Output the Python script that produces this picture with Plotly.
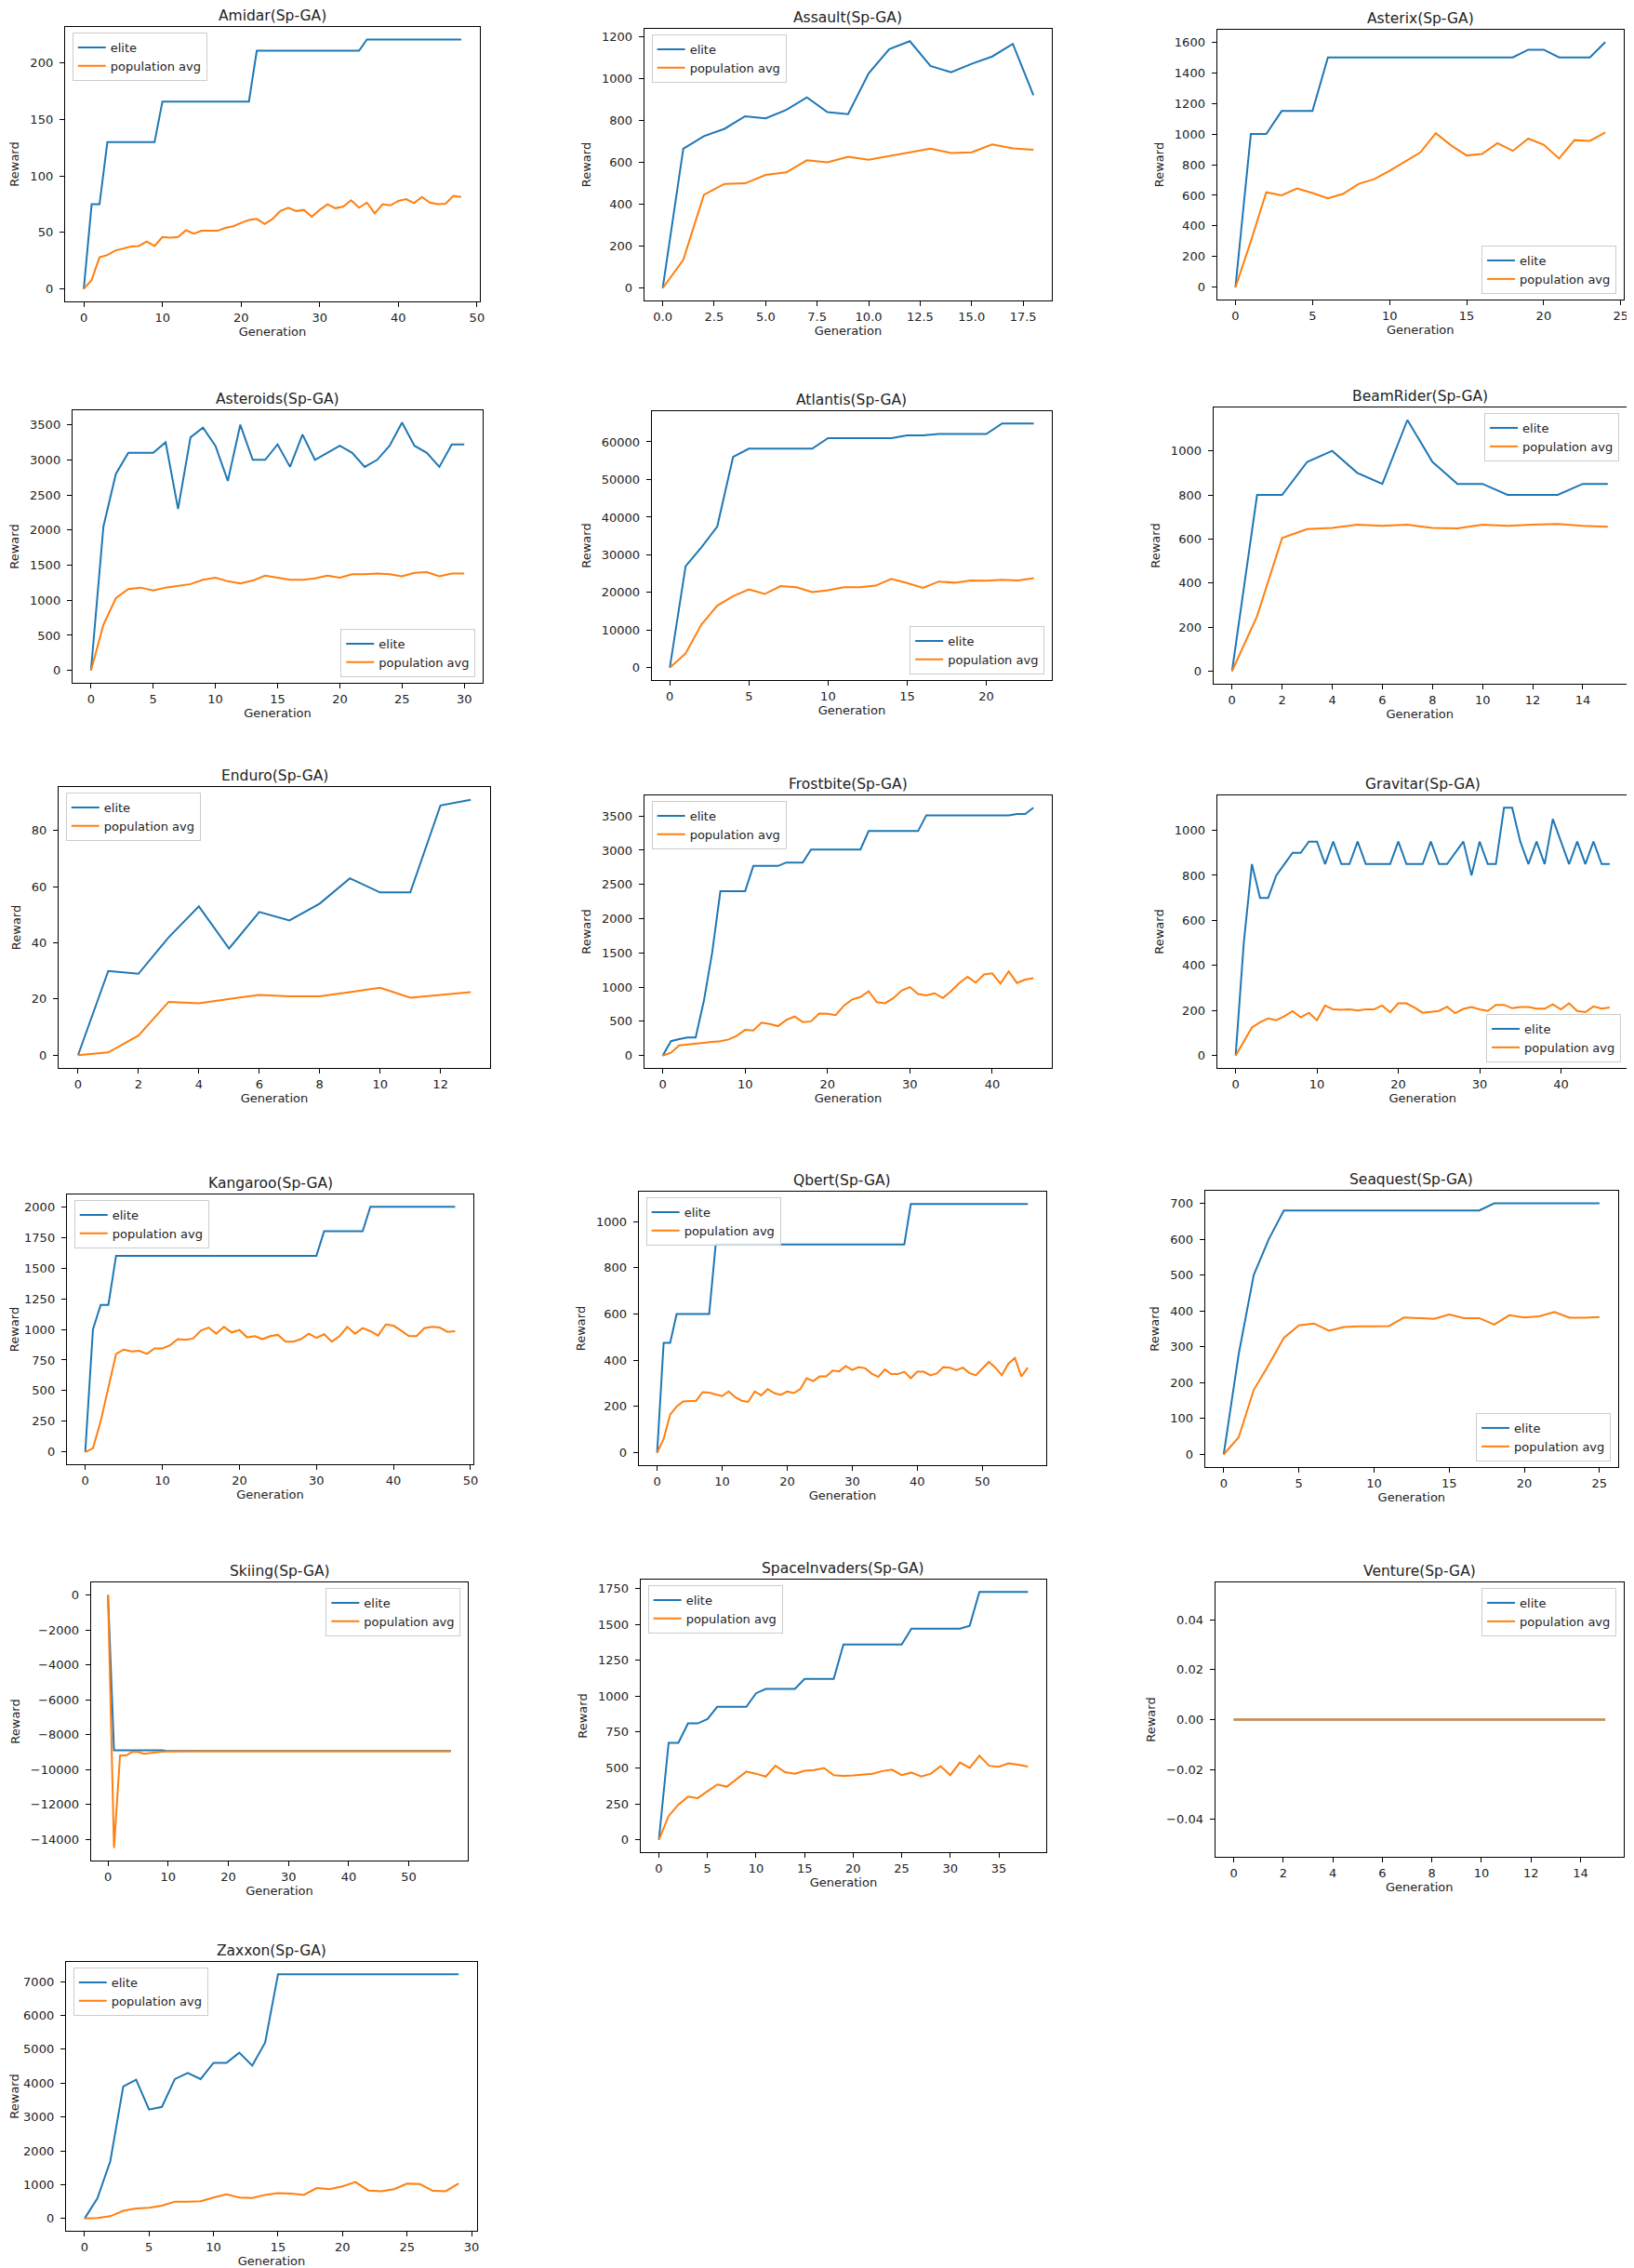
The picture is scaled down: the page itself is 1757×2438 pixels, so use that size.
import plotly.graph_objects as go

W, H = 1757, 2438
BLUE = "#1f77b4"
ORANGE = "#ff7f0e"
FONT = "DejaVu Sans"

# ---------------- data ----------------
amidar_elite = [0, 75, 75, 130, 130, 130, 130, 130, 130, 130,
                166, 166, 166, 166, 166, 166, 166, 166, 166, 166,
                166, 166, 211, 211, 211, 211, 211, 211, 211, 211,
                211, 211, 211, 211, 211, 211, 221, 221, 221, 221,
                221, 221, 221, 221, 221, 221, 221, 221, 221]
amidar_pop = [0, 8, 28, 30, 34, 36, 37.5, 38, 42, 38,
              46, 45.5, 46, 52, 49, 51.5, 51.5, 51.5, 54, 55.5,
              58.5, 61, 62, 57.5, 62, 69, 72, 69, 70, 64,
              70, 75, 71.5, 73, 78.5, 72, 76.5, 67, 75, 74,
              78, 79.5, 76, 81.5, 76.5, 75, 75.5, 82.5, 81.5]

assault_elite = [0, 665, 725, 760, 820, 810, 850, 910, 840, 830,
                 1025, 1140, 1178, 1060, 1030, 1070, 1105, 1165, 920]
assault_pop = [0, 135, 445, 497, 500, 540, 552, 610, 600, 627,
               612, 630, 648, 665, 645, 648, 685, 667, 660]

asterix_elite = [0, 1000, 1000, 1150, 1150, 1150, 1500, 1500, 1500, 1500,
                 1500, 1500, 1500, 1500, 1500, 1500, 1500, 1500, 1500, 1550,
                 1550, 1500, 1500, 1500, 1600]
asterix_pop = [0, 300, 620, 600, 645, 615, 580, 610, 675, 705,
               760, 820, 880, 1005, 925, 860, 870, 940, 890, 970,
               930, 840, 960, 955, 1010]

asteroids_elite = [0, 2050, 2800, 3100, 3100, 3100, 3250, 2300, 3320, 3460,
                   3200, 2700, 3500, 3000, 3000, 3220, 2900, 3360, 3000, 3100,
                   3200, 3100, 2900, 3000, 3200, 3530, 3200, 3100, 2900, 3220,
                   3220]
asteroids_pop = [0, 650, 1030, 1160, 1180, 1140, 1180, 1200, 1230, 1290,
                 1320, 1270, 1240, 1280, 1350, 1320, 1290, 1290, 1310, 1350,
                 1320, 1370, 1370, 1380, 1370, 1340, 1390, 1400, 1340, 1380,
                 1380]

atlantis_elite = [0, 27000, 32000, 37500, 56000, 58200, 58200, 58200, 58200, 58200,
                  61000, 61000, 61000, 61000, 61000, 61700, 61700, 62100, 62100, 62100,
                  62100, 64900, 64900, 64900]
atlantis_pop = [0, 3800, 11500, 16500, 19000, 20800, 19600, 21700, 21400, 20100,
                20600, 21400, 21400, 21800, 23600, 22500, 21200, 22900, 22600, 23200,
                23100, 23400, 23200, 23800]

beamrider_elite = [0, 800, 800, 950, 1000, 900, 850, 1140, 950, 850,
                   850, 800, 800, 800, 850, 850]
beamrider_pop = [0, 250, 605, 645, 650, 665, 660, 665, 650, 648,
                 665, 660, 665, 668, 660, 655]

enduro_elite = [0, 30, 29, 42, 53, 38, 51, 48, 54, 63, 58, 58, 89, 91]
enduro_pop = [0, 1, 7, 19, 18.5, 20, 21.5, 21, 21, 22.5, 24, 20.5, 21.5, 22.5]

frostbite_elite = [0, 210, 240, 265, 265, 800, 1500, 2400, 2400, 2400,
                   2400, 2770, 2770, 2770, 2770, 2820, 2820, 2820, 3010, 3010,
                   3010, 3010, 3010, 3010, 3010, 3280, 3280, 3280, 3280, 3280,
                   3280, 3280, 3510, 3510, 3510, 3510, 3510, 3510, 3510, 3510,
                   3510, 3510, 3510, 3530, 3530, 3620]
frostbite_pop = [0, 40, 150, 165, 180, 185, 200, 210, 235, 290,
                 375, 365, 480, 460, 430, 520, 570, 490, 500, 615,
                 610, 590, 730, 820, 855, 940, 780, 765, 840, 950,
                 1000, 900, 880, 910, 840, 940, 1060, 1150, 1065, 1185,
                 1200, 1050, 1230, 1060, 1110, 1130]

gravitar_elite = [0, 500, 850, 700, 700, 800, 850, 900, 900, 950,
                  950, 850, 950, 850, 850, 950, 850, 850, 850, 850,
                  950, 850, 850, 850, 950, 850, 850, 900, 950, 800,
                  950, 850, 850, 1100, 1100, 950, 850, 950, 850, 1050,
                  950, 850, 950, 850, 950, 850, 850]
gravitar_pop = [0, 60, 125, 148, 165, 157, 175, 197, 170, 190,
                157, 222, 205, 203, 205, 200, 205, 205, 222, 192,
                232, 232, 213, 190, 193, 198, 217, 188, 207, 215,
                205, 198, 225, 225, 210, 215, 215, 208, 208, 227,
                205, 232, 198, 193, 218, 208, 213]

kangaroo_elite = [0, 1000, 1200, 1200, 1600, 1600, 1600, 1600, 1600, 1600,
                  1600, 1600, 1600, 1600, 1600, 1600, 1600, 1600, 1600, 1600,
                  1600, 1600, 1600, 1600, 1600, 1600, 1600, 1600, 1600, 1600,
                  1600, 1800, 1800, 1800, 1800, 1800, 1800, 2000, 2000, 2000,
                  2000, 2000, 2000, 2000, 2000, 2000, 2000, 2000, 2000]
kangaroo_pop = [0, 30, 250, 530, 800, 835, 820, 825, 800, 845,
                845, 870, 920, 915, 925, 990, 1015, 965, 1020, 975,
                995, 935, 945, 920, 945, 955, 900, 900, 920, 965,
                930, 960, 900, 945, 1020, 965, 1010, 985, 950, 1040,
                1030, 990, 945, 945, 1010, 1020, 1015, 980, 985]

qbert_elite = [0, 475, 475, 600, 600, 600, 600, 600, 600, 900,
               900, 900, 900, 900, 900, 900, 900, 900, 900, 900,
               900, 900, 900, 900, 900, 900, 900, 900, 900, 900,
               900, 900, 900, 900, 900, 900, 900, 900, 900, 1075,
               1075, 1075, 1075, 1075, 1075, 1075, 1075, 1075, 1075, 1075,
               1075, 1075, 1075, 1075, 1075, 1075, 1075, 1075]
qbert_pop = [0, 60, 165, 200, 222, 225, 225, 262, 260, 252,
             245, 265, 240, 225, 220, 265, 248, 275, 258, 250,
             265, 258, 275, 322, 310, 330, 330, 355, 352, 375,
             358, 370, 365, 342, 328, 360, 340, 340, 350, 322,
             350, 350, 335, 343, 370, 368, 357, 368, 345, 335,
             365, 393, 368, 335, 385, 410, 330, 368]

seaquest_elite = [0, 280, 500, 600, 680, 680, 680, 680, 680, 680,
                  680, 680, 680, 680, 680, 680, 680, 680, 700, 700,
                  700, 700, 700, 700, 700, 700]
seaquest_pop = [0, 48, 180, 250, 325, 360, 365, 345, 355, 357,
                357, 358, 382, 380, 378, 390, 380, 380, 362, 388,
                382, 385, 397, 381, 381, 383]

skiing_elite = [0, -8900, -8900, -8900, -8900, -8900, -8900, -8900, -8900, -8900,
                -8950, -8950, -8950, -8950, -8950, -8950, -8950, -8950, -8950, -8950,
                -8950, -8950, -8950, -8950, -8950, -8950, -8950, -8950, -8950, -8950,
                -8950, -8950, -8950, -8950, -8950, -8950, -8950, -8950, -8950, -8950,
                -8950, -8950, -8950, -8950, -8950, -8950, -8950, -8950, -8950, -8950,
                -8950, -8950, -8950, -8950, -8950, -8950, -8950, -8950]
skiing_pop = [0, -14500, -9200, -9200, -9000, -9000, -9100, -9050, -9000, -8980,
              -8970, -8960, -8960, -8960, -8960, -8960, -8960, -8960, -8960, -8960,
              -8960, -8960, -8960, -8960, -8960, -8960, -8960, -8960, -8960, -8960,
              -8960, -8960, -8960, -8960, -8960, -8960, -8960, -8960, -8960, -8960,
              -8960, -8960, -8960, -8960, -8960, -8960, -8960, -8960, -8960, -8960,
              -8960, -8960, -8960, -8960, -8960, -8960, -8960, -8960]

spaceinvaders_elite = [0, 675, 675, 810, 810, 840, 925, 925, 925, 925,
                       1020, 1050, 1050, 1050, 1050, 1120, 1120, 1120, 1120, 1360,
                       1360, 1360, 1360, 1360, 1360, 1360, 1470, 1470, 1470, 1470,
                       1470, 1470, 1490, 1725, 1725, 1725, 1725, 1725, 1725]
spaceinvaders_pop = [0, 165, 245, 300, 290, 340, 385, 370, 420, 475,
                     460, 440, 515, 470, 460, 480, 485, 500, 450, 445,
                     448, 455, 460, 478, 488, 450, 468, 440, 460, 512,
                     450, 538, 500, 585, 515, 508, 532, 522, 510]

venture_elite = [0, 0, 0, 0, 0, 0, 0, 0, 0, 0, 0, 0, 0, 0, 0, 0]
venture_pop = [0, 0, 0, 0, 0, 0, 0, 0, 0, 0, 0, 0, 0, 0, 0, 0]

zaxxon_elite = [0, 600, 1700, 3900, 4100, 3220, 3300, 4120, 4300, 4120,
                4600, 4600, 4900, 4520, 5200, 7220, 7220, 7220, 7220, 7220,
                7220, 7220, 7220, 7220, 7220, 7220, 7220, 7220, 7220, 7220]
zaxxon_pop = [0, 20, 70, 230, 300, 320, 380, 500, 500, 510,
              620, 720, 620, 610, 700, 750, 740, 700, 900, 870,
              950, 1080, 830, 810, 870, 1030, 1020, 820, 810, 1040]

games = ["Amidar", "Assault", "Asterix", "Asteroids", "Atlantis", "BeamRider",
         "Enduro", "Frostbite", "Gravitar", "Kangaroo", "Qbert", "Seaquest",
         "Skiing", "SpaceInvaders", "Venture", "Zaxxon"]
elites = [amidar_elite, assault_elite, asterix_elite, asteroids_elite, atlantis_elite,
          beamrider_elite, enduro_elite, frostbite_elite, gravitar_elite, kangaroo_elite,
          qbert_elite, seaquest_elite, skiing_elite, spaceinvaders_elite, venture_elite,
          zaxxon_elite]
pops = [amidar_pop, assault_pop, asterix_pop, asteroids_pop, atlantis_pop,
        beamrider_pop, enduro_pop, frostbite_pop, gravitar_pop, kangaroo_pop,
        qbert_pop, seaquest_pop, skiing_pop, spaceinvaders_pop, venture_pop,
        zaxxon_pop]

# ---------------- layout / style ----------------
# axes boxes in pixels: left, right, top, bottom
boxes = [
    (61, 509, 21, 316), (686, 1126, 23, 315), (1304, 1743, 24, 314),
    (69, 512, 433, 726), (694, 1126, 434, 723), (1300, 1746, 430, 727),
    (54, 520, 838, 1140), (686, 1126, 847, 1140), (1304, 1748, 847, 1140),
    (63, 502, 1276, 1566), (680, 1120, 1273, 1567), (1291, 1737, 1272, 1569),
    (89, 496, 1693, 1992), (682, 1120, 1690, 1983), (1302, 1743, 1693, 1988),
    (62, 506, 2101, 2390),
]
x_dticks = [10, 2.5, 5, 5, 5, 2, 2, 10, 10, 10, 10, 5, 10, 5, 2, 5]
y_dticks = [50, 200, 200, 500, 10000, 200, 20, 500, 200, 250, 200, 100, 2000, 250, 0.02, 1000]
legend_pos = ["ul", "ul", "lr", "lr", "lr", "ur", "ul", "ul", "lr", "ul", "ul", "lr",
              "ur", "ul", "ur", "ul"]

fig = go.Figure()
layout = dict(
    width=W, height=H, margin=dict(l=0, r=0, t=0, b=0),
    paper_bgcolor="white", plot_bgcolor="white",
    font=dict(family=FONT, size=13, color="#222222"),
    annotations=[],
)

for i, game in enumerate(games):
    n = i + 1
    sfx = "" if n == 1 else str(n)
    elite = elites[i]
    pop = pops[i]
    gens = list(range(len(elite)))
    leg = "legend" + sfx
    fig.add_trace(go.Scatter(x=gens, y=elite, mode="lines", name="elite",
                             line=dict(color=BLUE, width=2),
                             xaxis="x" + sfx, yaxis="y" + sfx, legend=leg))
    fig.add_trace(go.Scatter(x=gens, y=pop, mode="lines", name="population avg",
                             line=dict(color=ORANGE, width=2),
                             xaxis="x" + sfx, yaxis="y" + sfx, legend=leg))

    l, r, t, b = boxes[i]
    xd = [l / W, r / W]
    yd = [1 - b / H, 1 - t / H]

    xmax = gens[-1]
    xr = [-0.05 * xmax, xmax * 1.05]
    lo = min(min(elite), min(pop))
    hi = max(max(elite), max(pop))
    if hi == lo:
        lo, hi = lo - 0.05, hi + 0.05
    span = hi - lo
    yr = [lo - 0.05 * span, hi + 0.05 * span]

    common = dict(showline=True, mirror=True, linecolor="black", linewidth=1,
                  ticks="outside", ticklen=5, tickwidth=1, tickcolor="black",
                  showgrid=False, zeroline=False,
                  tickfont=dict(family=FONT, size=13, color="#222222"))
    xfmt = ".1f" if x_dticks[i] == 2.5 else "d"
    yfmt = ".2f" if y_dticks[i] < 1 else "d"
    layout["xaxis" + sfx] = dict(common, domain=xd, anchor="y" + sfx, range=xr,
                                 tick0=0, dtick=x_dticks[i], tickformat=xfmt,
                                 title=dict(text="Generation", standoff=3,
                                            font=dict(family=FONT, size=13)))
    layout["yaxis" + sfx] = dict(common, domain=yd, anchor="x" + sfx, range=yr,
                                 tick0=0, dtick=y_dticks[i], tickformat=yfmt,
                                 ticklabelstandoff=4,
                                 title=dict(text="Reward", standoff=8,
                                            font=dict(family=FONT, size=13)))

    pos = legend_pos[i]
    pad_x = 8 / W
    pad_y = 6 / H
    if pos == "ul":
        lx, ly, xa, ya = xd[0] + pad_x, yd[1] - pad_y, "left", "top"
    elif pos == "ur":
        lx, ly, xa, ya = xd[1] - pad_x, yd[1] - pad_y, "right", "top"
    else:
        lx, ly, xa, ya = xd[1] - pad_x, yd[0] + pad_y, "right", "bottom"
    layout[leg] = dict(x=lx, y=ly, xanchor=xa, yanchor=ya, xref="paper", yref="paper",
                       bgcolor="rgba(255,255,255,0.8)", bordercolor="#cccccc",
                       borderwidth=1, font=dict(family=FONT, size=13, color="#222222"),
                       itemwidth=30, tracegroupgap=0)

    layout["annotations"].append(dict(
        text=game + "(Sp-GA)", x=(xd[0] + xd[1]) / 2, y=yd[1], xref="paper", yref="paper",
        xanchor="center", yanchor="bottom", yshift=1, showarrow=False,
        font=dict(family=FONT, size=15.5, color="#222222")))

fig.update_layout(**layout)
fig.write_html("out.html")
